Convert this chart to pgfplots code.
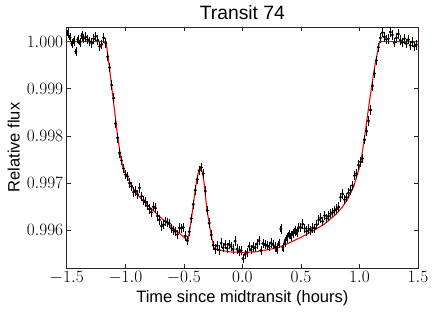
\documentclass[border=0pt]{standalone}
\usepackage{fontspec}
\setmainfont{Liberation Sans}
\usepackage{pgfplots}
\usepackage{pgfplotstable}
\pgfplotsset{compat=1.18}

\pgfplotstableread{
x y
-1.490 1.00018
-1.473 1.00009
-1.456 0.99996
-1.439 1.00001
-1.422 0.99979
-1.405 1.00004
-1.388 0.99998
-1.371 1.00012
-1.354 1.00007
-1.337 1.00010
-1.320 1.00004
-1.303 1.00000
-1.286 0.99997
-1.269 1.00006
-1.252 1.00011
-1.235 1.00003
-1.218 0.99990
-1.201 0.99994
-1.184 1.00008
-1.167 0.99997
-1.150 0.99968
-1.133 0.99945
-1.116 0.99908
-1.099 0.99880
-1.082 0.99826
-1.065 0.99796
-1.048 0.99764
-1.031 0.99748
-1.014 0.99731
-0.997 0.99718
-0.980 0.99714
-0.963 0.99700
-0.946 0.99693
-0.929 0.99681
-0.912 0.99683
-0.895 0.99676
-0.878 0.99690
-0.861 0.99672
-0.844 0.99663
-0.827 0.99660
-0.810 0.99652
-0.793 0.99645
-0.776 0.99638
-0.759 0.99650
-0.742 0.99647
-0.725 0.99630
-0.708 0.99622
-0.691 0.99609
-0.674 0.99612
-0.657 0.99619
-0.640 0.99617
-0.623 0.99614
-0.606 0.99604
-0.589 0.99600
-0.572 0.99597
-0.555 0.99591
-0.538 0.99605
-0.521 0.99604
-0.504 0.99606
-0.487 0.99588
-0.470 0.99578
-0.453 0.99597
-0.436 0.99625
-0.419 0.99655
-0.402 0.99685
-0.385 0.99708
-0.368 0.99727
-0.351 0.99733
-0.334 0.99720
-0.317 0.99683
-0.300 0.99642
-0.283 0.99615
-0.266 0.99590
-0.249 0.99568
-0.232 0.99560
-0.215 0.99567
-0.198 0.99558
-0.181 0.99573
-0.164 0.99563
-0.147 0.99570
-0.130 0.99562
-0.113 0.99570
-0.096 0.99566
-0.079 0.99560
-0.062 0.99577
-0.045 0.99560
-0.028 0.99556
-0.011 0.99557
0.006 0.99540
0.023 0.99549
0.040 0.99553
0.057 0.99566
0.074 0.99559
0.091 0.99565
0.108 0.99563
0.125 0.99571
0.142 0.99578
0.159 0.99557
0.176 0.99572
0.193 0.99570
0.210 0.99568
0.227 0.99566
0.244 0.99573
0.261 0.99570
0.278 0.99565
0.295 0.99560
0.312 0.99572
0.329 0.99603
0.346 0.99563
0.363 0.99575
0.380 0.99584
0.397 0.99591
0.414 0.99588
0.431 0.99593
0.448 0.99598
0.465 0.99596
0.482 0.99606
0.499 0.99606
0.516 0.99613
0.533 0.99604
0.550 0.99598
0.567 0.99603
0.584 0.99600
0.601 0.99605
0.618 0.99604
0.635 0.99612
0.652 0.99622
0.669 0.99626
0.686 0.99619
0.703 0.99631
0.720 0.99625
0.737 0.99630
0.754 0.99635
0.771 0.99638
0.788 0.99642
0.805 0.99645
0.822 0.99649
0.839 0.99670
0.856 0.99677
0.873 0.99665
0.890 0.99670
0.907 0.99679
0.924 0.99685
0.941 0.99695
0.958 0.99716
0.975 0.99720
0.992 0.99738
1.009 0.99745
1.026 0.99752
1.043 0.99792
1.060 0.99810
1.077 0.99832
1.094 0.99855
1.111 0.99906
1.128 0.99932
1.145 0.99960
1.162 0.99988
1.179 1.00008
1.196 1.00019
1.213 1.00010
1.230 1.00005
1.247 1.00006
1.264 1.00020
1.281 1.00014
1.298 0.99998
1.315 1.00008
1.332 1.00016
1.349 1.00003
1.366 0.99998
1.383 1.00006
1.400 0.99996
1.417 1.00004
1.434 0.99992
1.451 0.99999
1.468 0.99990
1.485 0.99993
}\transit

\pgfplotstableread{
x y
-1.500 1.00000
-1.164 1.00000
-1.136 0.99947
-1.102 0.99876
-1.068 0.99805
-1.039 0.99755
-1.017 0.99730
-0.980 0.99711
-0.930 0.99688
-0.880 0.99671
-0.830 0.99659
-0.790 0.99649
-0.720 0.99632
-0.650 0.99617
-0.580 0.99602
-0.520 0.99590
-0.465 0.99578
-0.450 0.99600
-0.433 0.99628
-0.418 0.99656
-0.405 0.99681
-0.390 0.99706
-0.375 0.99723
-0.356 0.99731
-0.340 0.99722
-0.325 0.99697
-0.305 0.99649
-0.290 0.99625
-0.277 0.99606
-0.260 0.99582
-0.240 0.99561
-0.200 0.99558
-0.100 0.99554
0.000 0.99553
0.100 0.99554
0.200 0.99558
0.300 0.99563
0.400 0.99573
0.500 0.99585
0.600 0.99598
0.700 0.99613
0.800 0.99634
0.850 0.99648
0.900 0.99666
0.950 0.99692
0.990 0.99725
1.010 0.99742
1.045 0.99800
1.087 0.99876
1.130 0.99947
1.172 1.00000
1.500 1.00000
}\model

\begin{document}
\begin{tikzpicture}
\begin{axis}[
  scale only axis,
  width=351.3pt, height=241pt,
  xmin=-1.5, xmax=1.5, ymin=0.99520, ymax=1.00031,
  xtick={-1.5,-1,-0.5,0,0.5,1,1.5},
  ytick={0.996,0.997,0.998,0.999,1.000},
  minor tick num=0,
  tick align=inside,
  major tick length=4pt,
  scaled y ticks=false,
  scaled x ticks=false,
  xticklabel style={/pgf/number format/.cd, fixed, fixed zerofill, precision=1},
  yticklabel style={/pgf/number format/.cd, fixed, fixed zerofill, precision=3},
  tick label style={font=\fontsize{16.5}{19}\selectfont},
  title={Transit 74},
  title style={font=\fontsize{19.3}{22}\selectfont, yshift=-2pt},
  xlabel={Time since midtransit (hours)},
  ylabel={Relative flux},
  label style={font=\fontsize{16.5}{19}\selectfont},
  axis line style={line width=0.9pt, black!85},
  tick style={line width=0.6pt, black!85},
]
\addplot[red, line width=1.1pt] table[x=x, y=y] {\model};
\addplot[only marks, mark=*, mark size=1.3pt, black,
  error bars/.cd, y dir=both, y fixed=0.00006,
  error bar style={line width=0.8pt, black},
  error mark options={black, mark size=1.9pt, line width=0.6pt}]
  table[x=x, y=y] {\transit};
\end{axis}
\pgfresetboundingbox
\path (current axis.south west) ++(-66.7pt,-46pt) -- (current axis.north east) ++(18pt,27pt);
\end{tikzpicture}
\end{document}
